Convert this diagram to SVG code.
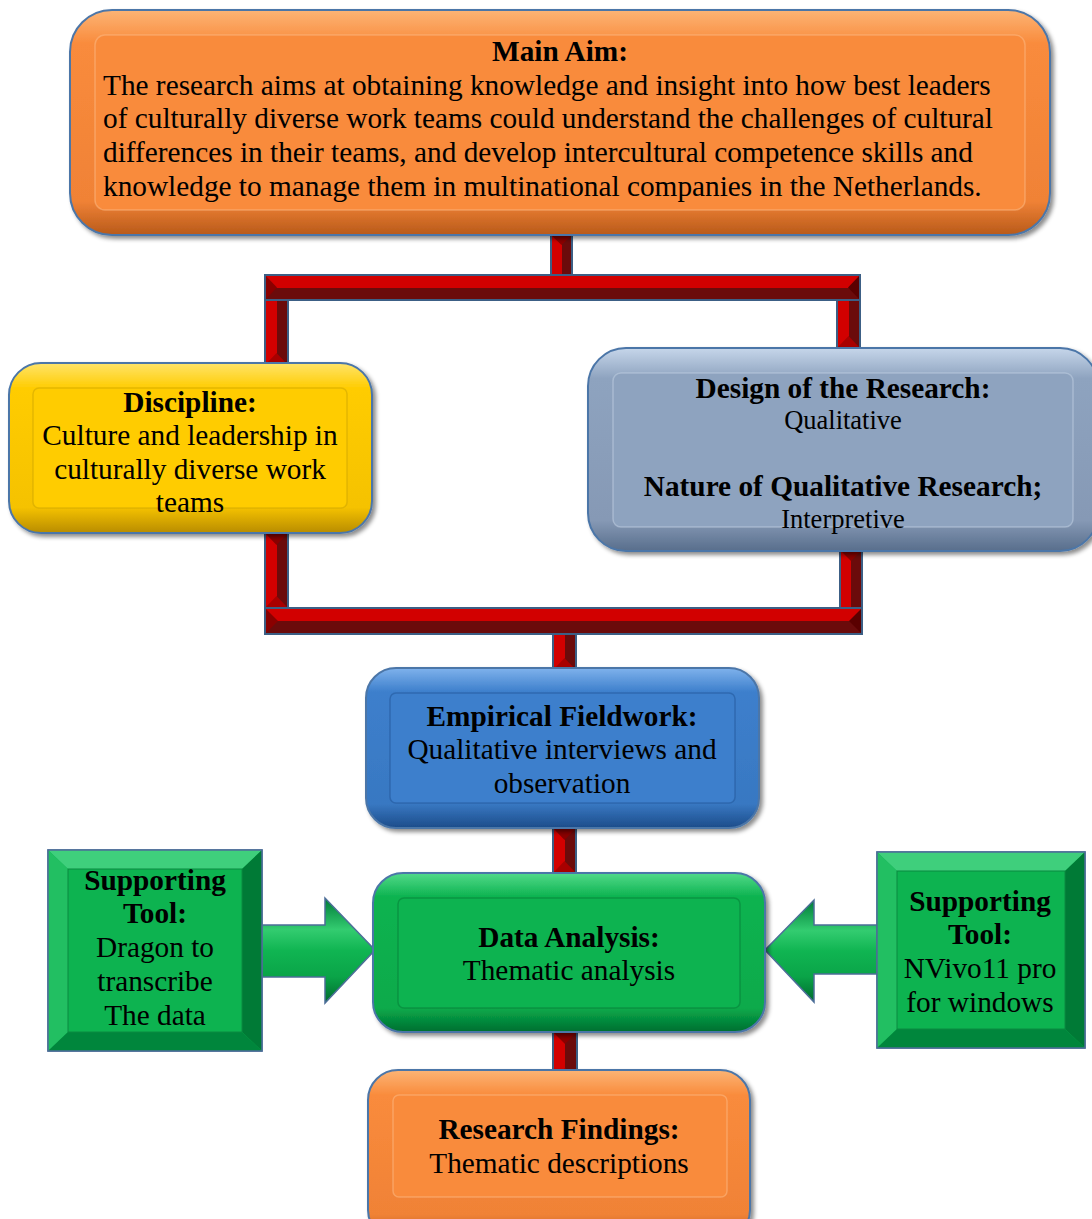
<svg xmlns="http://www.w3.org/2000/svg" width="1092" height="1219" viewBox="0 0 1092 1219">
<defs>
<linearGradient id="gOr" x1="0" y1="0" x2="0" y2="1"><stop offset="0" stop-color="#FCB475"/><stop offset="0.15" stop-color="#F98B3C"/><stop offset="0.85" stop-color="#F08236"/><stop offset="1" stop-color="#B85A1A"/></linearGradient>
<linearGradient id="gYe" x1="0" y1="0" x2="0" y2="1"><stop offset="0" stop-color="#FFE46A"/><stop offset="0.15" stop-color="#FFCC00"/><stop offset="0.85" stop-color="#F5C200"/><stop offset="1" stop-color="#B88C00"/></linearGradient>
<linearGradient id="gGb" x1="0" y1="0" x2="0" y2="1"><stop offset="0" stop-color="#C6D6EA"/><stop offset="0.15" stop-color="#8EA3BF"/><stop offset="0.85" stop-color="#8699B5"/><stop offset="1" stop-color="#586E8C"/></linearGradient>
<linearGradient id="gBl" x1="0" y1="0" x2="0" y2="1"><stop offset="0" stop-color="#7FB2EC"/><stop offset="0.15" stop-color="#3D7FCC"/><stop offset="0.85" stop-color="#3878C2"/><stop offset="1" stop-color="#1D4C8A"/></linearGradient>
<linearGradient id="gGr" x1="0" y1="0" x2="0" y2="1"><stop offset="0" stop-color="#52DA8A"/><stop offset="0.15" stop-color="#0DB350"/><stop offset="0.85" stop-color="#0AAA4B"/><stop offset="1" stop-color="#006E30"/></linearGradient>
<linearGradient id="gArr" x1="0" y1="0" x2="0" y2="1"><stop offset="0" stop-color="#007A38"/><stop offset="0.3" stop-color="#33CC70"/><stop offset="0.5" stop-color="#10B552"/><stop offset="0.75" stop-color="#0AA448"/><stop offset="1" stop-color="#006A2E"/></linearGradient>
<filter id="sh" x="-5%" y="-5%" width="115%" height="120%"><feDropShadow dx="3" dy="3" stdDeviation="2" flood-color="#000" flood-opacity="0.45"/></filter>
</defs>
<style>
.outer{stroke:#4C76A8;stroke-width:2;filter:url(#sh)}
.inner{stroke-width:1.5;stroke-opacity:0.5}
.t{font-family:"Liberation Serif","Times New Roman",serif;font-size:29.3px;fill:#000}
.s{font-size:26.5px}
.b{font-weight:bold}
.c{text-anchor:middle}
.red{fill:#D20000}
.dk{fill:#6B0B0B}
.dk2{fill:#8A0000}
.rs{fill:none;stroke:#3C5F85;stroke-width:2}
.arr{fill:url(#gArr);stroke:#4C6E98;stroke-width:1.5}
.sq{stroke:#4C6E98;stroke-width:1.5}
</style>

<g id="connectors">
  <rect class="red" x="551" y="235" width="11" height="40"/><rect class="dk" x="562" y="235" width="10" height="40"/>
  <polygon class="dk2" points="551,235 572,235 561.5,245"/><rect class="rs" x="551" y="235" width="21" height="40"/>
  <rect class="red" x="265" y="275" width="595" height="13"/><rect class="dk" x="265" y="288" width="595" height="12"/>
  <polygon class="dk2" points="265,275 265,300 277,287.5"/><polygon fill="#5A0000" points="860,275 860,300 848,287.5"/>
  <rect class="rs" x="265" y="275" width="595" height="25"/>
  <rect class="red" x="265" y="300" width="12" height="65"/><rect class="dk" x="277" y="300" width="11" height="65"/>
  <polygon fill="#A80000" points="265,365 288,365 276.5,353"/><rect class="rs" x="265" y="300" width="23" height="65"/>
  <rect class="red" x="837" y="300" width="12" height="48"/><rect class="dk" x="849" y="300" width="11" height="48"/>
  <polygon fill="#A80000" points="837,348 860,348 848.5,336"/><rect class="rs" x="837" y="300" width="23" height="48"/>
  <rect class="red" x="265" y="533" width="12" height="75"/><rect class="dk" x="277" y="533" width="11" height="75"/>
  <polygon class="dk2" points="265,533 288,533 276.5,545"/><polygon fill="#A80000" points="265,608 288,608 276.5,596"/><rect class="rs" x="265" y="533" width="23" height="75"/>
  <rect class="red" x="840" y="550" width="11" height="58"/><rect class="dk" x="851" y="550" width="11" height="58"/>
  <polygon class="dk2" points="840,550 862,550 851,561"/><rect class="rs" x="840" y="550" width="22" height="58"/>
  <rect class="red" x="265" y="608" width="597" height="13"/><rect class="dk" x="265" y="621" width="597" height="13"/>
  <polygon class="dk2" points="265,608 265,634 278,621"/><polygon fill="#5A0000" points="862,608 862,634 849,621"/>
  <rect class="rs" x="265" y="608" width="597" height="26"/>
  <rect class="red" x="553" y="634" width="12" height="36"/><rect class="dk" x="565" y="634" width="11" height="36"/>
  <polygon fill="#A80000" points="553,670 576,670 564.5,658"/><rect class="rs" x="553" y="634" width="23" height="36"/>
  <rect class="red" x="553" y="828" width="12" height="45"/><rect class="dk" x="565" y="828" width="11" height="45"/>
  <polygon class="dk2" points="553,828 576,828 564.5,840"/><polygon fill="#A80000" points="553,873 576,873 564.5,861"/><rect class="rs" x="553" y="828" width="23" height="45"/>
  <rect class="red" x="553" y="1032" width="12" height="48"/><rect class="dk" x="565" y="1032" width="12" height="48"/>
  <polygon class="dk2" points="553,1032 577,1032 565,1044"/><polygon fill="#A80000" points="553,1080 577,1080 565,1068"/><rect class="rs" x="553" y="1032" width="24" height="48"/>
  <polygon class="arr" points="240,925 325,925 325,898 375,950 325,1003 325,977 240,977"/>
  <polygon class="arr" points="765,950 814,900 814,925 900,925 900,974 814,974 814,1002"/>
</g>

<g id="main-aim">
  <rect class="outer" x="70" y="10" width="980" height="225" rx="42" fill="url(#gOr)"/>
  <rect class="inner" x="95" y="35" width="930" height="175" rx="10" fill="#F98B3C" stroke="#FDBE8A"/>
  <text class="t b c" x="560" y="61">Main Aim:</text>
  <text class="t" x="103" y="95">The research aims at obtaining knowledge and insight into how best leaders</text>
  <text class="t" x="103" y="128">of culturally diverse work teams could understand the challenges of cultural</text>
  <text class="t" x="103" y="162">differences in their teams, and develop intercultural competence skills and</text>
  <text class="t" x="103" y="196">knowledge to manage them in multinational companies in the Netherlands.</text>
</g>

<g id="discipline">
  <rect class="outer" x="9" y="363" width="363" height="170" rx="32" fill="url(#gYe)"/>
  <rect class="inner" x="33" y="388" width="314" height="120" rx="6" fill="#FFCC00" stroke="#C9A200"/>
  <text class="t b c" x="190" y="412">Discipline:</text>
  <text class="t c" x="190" y="445">Culture and leadership in</text>
  <text class="t c" x="190" y="479">culturally diverse work</text>
  <text class="t c" x="190" y="512">teams</text>
</g>

<g id="design">
  <rect class="outer" x="588" y="348" width="510" height="203" rx="38" fill="url(#gGb)"/>
  <rect class="inner" x="613" y="373" width="460" height="154" rx="8" fill="#8EA3BF" stroke="#C6D4E6"/>
  <text class="t b c" x="843" y="398">Design of the Research:</text>
  <text class="t s c" x="843" y="429">Qualitative</text>
  <text class="t b c" x="843" y="496">Nature of Qualitative Research;</text>
  <text class="t s c" x="843" y="528">Interpretive</text>
</g>

<g id="empirical">
  <rect class="outer" x="366" y="668" width="393" height="160" rx="30" fill="url(#gBl)"/>
  <rect class="inner" x="390" y="693" width="345" height="110" rx="6" fill="#3D7FCC" stroke="#1F5496"/>
  <text class="t b c" x="562" y="726">Empirical Fieldwork:</text>
  <text class="t c" x="562" y="759">Qualitative interviews and</text>
  <text class="t c" x="562" y="793">observation</text>
</g>

<g id="tool-left">
  <rect class="sq" x="48" y="850" width="214" height="201" fill="#0DB350"/>
  <polygon fill="#3FCF7C" points="48,850 262,850 242,869 68,869"/>
  <polygon fill="#22BF62" points="48,850 68,869 68,1032 48,1051"/>
  <polygon fill="#007A36" points="262,850 262,1051 242,1032 242,869"/>
  <polygon fill="#00863C" points="48,1051 262,1051 242,1032 68,1032"/>
  <rect x="68" y="869" width="174" height="163" fill="#0DB350" stroke="#0A8A40" stroke-width="1"/>
  <rect class="sq" x="48" y="850" width="214" height="201" fill="none"/>
  <text class="t b c" x="155" y="890">Supporting</text>
  <text class="t b c" x="155" y="923">Tool:</text>
  <text class="t c" x="155" y="957">Dragon to</text>
  <text class="t c" x="155" y="991">transcribe</text>
  <text class="t c" x="155" y="1025">The data</text>
</g>

<g id="data-analysis">
  <rect class="outer" x="373" y="873" width="392" height="159" rx="30" fill="url(#gGr)"/>
  <rect class="inner" x="398" y="898" width="342" height="110" rx="6" fill="#0DB350" stroke="#067A36"/>
  <text class="t b c" x="569" y="947">Data Analysis:</text>
  <text class="t c" x="569" y="980">Thematic analysis</text>
</g>

<g id="tool-right">
  <rect class="sq" x="877" y="852" width="208" height="196" fill="#0DB350"/>
  <polygon fill="#3FCF7C" points="877,852 1085,852 1065,871 897,871"/>
  <polygon fill="#22BF62" points="877,852 897,871 897,1029 877,1048"/>
  <polygon fill="#007A36" points="1085,852 1085,1048 1065,1029 1065,871"/>
  <polygon fill="#00863C" points="877,1048 1085,1048 1065,1029 897,1029"/>
  <rect x="897" y="871" width="168" height="158" fill="#0DB350" stroke="#0A8A40" stroke-width="1"/>
  <rect class="sq" x="877" y="852" width="208" height="196" fill="none"/>
  <text class="t b c" x="980" y="911">Supporting</text>
  <text class="t b c" x="980" y="944">Tool:</text>
  <text class="t c" x="980" y="978">NVivo11 pro</text>
  <text class="t c" x="980" y="1012">for windows</text>
</g>

<g id="findings">
  <rect class="outer" x="368" y="1070" width="382" height="170" rx="30" fill="url(#gOr)"/>
  <rect class="inner" x="393" y="1095" width="334" height="102" rx="6" fill="#F98B3C" stroke="#FDBE8A"/>
  <text class="t b c" x="559" y="1139">Research Findings:</text>
  <text class="t c" x="559" y="1173">Thematic descriptions</text>
</g>
</svg>
